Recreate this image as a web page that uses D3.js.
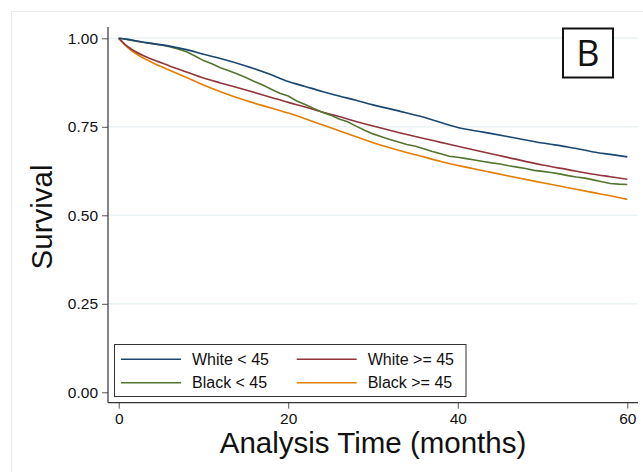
<!DOCTYPE html>
<html><head><meta charset="utf-8">
<script src="https://cdn.jsdelivr.net/npm/d3@7"></script>
<style>body{margin:0;background:#fff;}svg{display:block;font-family:"Liberation Sans",Arial,sans-serif;}</style>
</head><body>
<script>
const months = [0,1,2,3,4,6,8,10,12,15,18,20,22,24,26,28,30,33,36,38,40,43,46,50,53,56,58,60];
const whiteUnder45 = [1,0.997,0.993,0.989,0.985,0.978,0.968,0.955,0.943,0.922,0.897,0.878,0.864,0.850,0.837,0.825,0.812,0.795,0.777,0.762,0.748,0.735,0.722,0.704,0.693,0.679,0.672,0.665];
const whiteOver45 = [1,0.978,0.962,0.950,0.940,0.922,0.905,0.888,0.874,0.854,0.833,0.819,0.806,0.792,0.779,0.765,0.752,0.734,0.717,0.706,0.695,0.679,0.663,0.642,0.629,0.616,0.609,0.602];
const blackOver45 = [1,0.975,0.957,0.943,0.931,0.910,0.889,0.868,0.849,0.824,0.803,0.789,0.773,0.756,0.739,0.722,0.705,0.684,0.665,0.652,0.641,0.626,0.611,0.592,0.578,0.564,0.555,0.545];
const greenMonths = [0,1,2,3,4,5,6,7,8,9,10,11,12,13,14,15,16,17,18,19,20,21,22,23,24,25,26,27,28,29,30,31,32,33,34,35,36,37,38,39,40,41,42,43,44,45,46,47,48,49,50,51,52,53,54,55,56,57,58,59,60];
const blackUnder45 = [1,0.997,0.992,0.988,0.985,0.981,0.976,0.970,0.962,0.950,0.937,0.928,0.917,0.908,0.899,0.889,0.878,0.868,0.856,0.845,0.837,0.823,0.813,0.802,0.791,0.783,0.772,0.764,0.752,0.740,0.730,0.722,0.714,0.707,0.700,0.695,0.688,0.680,0.674,0.667,0.664,0.660,0.656,0.652,0.648,0.645,0.640,0.636,0.632,0.627,0.624,0.621,0.617,0.612,0.608,0.605,0.600,0.595,0.590,0.588,0.587];
const seriesNames = ["White < 45","White >= 45","Black < 45","Black >= 45"];
const seriesColors = ["#1a476f","#90353b","#55752f","#e37e00"];
const yTicks = [0,0.25,0.5,0.75,1];
const xTicks = [0,20,40,60];

const W=643,H=472;
const svg=d3.select("body").append("svg").attr("width",W).attr("height",H);
svg.append("rect").attr("x",11.5).attr("y",11.5).attr("width",700).attr("height",500).attr("fill","#fff").attr("stroke","#ebebeb");

const x=d3.scaleLinear().domain([0,60]).range([118.7,627.3]);
const y=d3.scaleLinear().domain([0,1]).range([392.3,38.3]);
const axisY=108, axisX=402.7;

// gridlines
svg.append("g").selectAll("line").data(yTicks.filter(d=>d>0)).join("line")
  .attr("x1",axisY).attr("x2",638).attr("y1",d=>y(d)).attr("y2",d=>y(d))
  .attr("stroke","#eaf2f3").attr("stroke-width",1.5);

// y axis
const gy=svg.append("g").attr("transform",`translate(${axisY},0)`)
  .call(d3.axisLeft(y).tickValues(yTicks).tickFormat(d3.format(".2f")).tickSize(6).tickPadding(4).tickSizeOuter(0));
gy.select(".domain").remove();
gy.append("line").attr("y1",27).attr("y2",axisX).attr("stroke","#333").attr("stroke-width",1.2);
gy.selectAll(".tick line").attr("stroke","#555");
gy.selectAll(".tick text").attr("font-size",15.5).attr("fill","#111").attr("font-family","Liberation Sans, Arial");

// x axis
const gx=svg.append("g").attr("transform",`translate(0,${axisX})`)
  .call(d3.axisBottom(x).tickValues(xTicks).tickSize(6).tickPadding(4).tickSizeOuter(0));
gx.select(".domain").remove();
gx.append("line").attr("x1",axisY).attr("x2",638).attr("stroke","#333").attr("stroke-width",1.2);
gx.selectAll(".tick line").attr("stroke","#555");
gx.selectAll(".tick text").attr("font-size",15.5).attr("fill","#111").attr("font-family","Liberation Sans, Arial");

// lines
const line=d3.line().x(d=>x(d[0])).y(d=>y(d[1]));
const smooth=d3.line().x(d=>x(d[0])).y(d=>y(d[1])).curve(d3.curveMonotoneX);
const data=[
  months.map((m,i)=>[m,whiteUnder45[i]]),
  months.map((m,i)=>[m,whiteOver45[i]]),
  greenMonths.map((m,i)=>[m,blackUnder45[i]]),
  months.map((m,i)=>[m,blackOver45[i]])
];
[3,1,2,0].forEach(i=>{
  svg.append("path").attr("d",(i===2?line:smooth)(data[i])).attr("fill","none")
    .attr("stroke",seriesColors[i]).attr("stroke-width",1.6);
});

// legend
const lg=svg.append("g");
lg.append("rect").attr("x",114.5).attr("y",344.5).attr("width",351.5).attr("height",52).attr("fill","#fff").attr("stroke","#333").attr("stroke-width",1);
const pos=[[121,359.3],[296.7,359.3],[121,382.7],[296.7,382.7]];
const order=[0,1,2,3];
order.forEach((si,k)=>{
  const [lx,ly]=pos[k];
  lg.append("line").attr("x1",lx).attr("x2",lx+60).attr("y1",ly).attr("y2",ly).attr("stroke",seriesColors[si]).attr("stroke-width",1.6);
  lg.append("text").attr("x",lx+71).attr("y",ly+5.5).attr("font-size",16).attr("fill","#111").text(seriesNames[si]);
});

// titles
svg.append("text").attr("transform","translate(52,217) rotate(-90)").attr("text-anchor","middle").attr("font-size",29.5).attr("fill","#111").text("Survival");
svg.append("text").attr("x",373).attr("y",453).attr("text-anchor","middle").attr("font-size",29.5).attr("fill","#111").text("Analysis Time (months)");

// panel label
svg.append("rect").attr("x",563).attr("y",28.5).attr("width",50).attr("height",49).attr("fill","#fff").attr("stroke","#111").attr("stroke-width",2);
svg.append("text").attr("x",588).attr("y",66).attr("text-anchor","middle").attr("font-size",36).attr("font-family","Open Sans, Liberation Sans").attr("fill","#111").text("B");
</script>
</body></html>
